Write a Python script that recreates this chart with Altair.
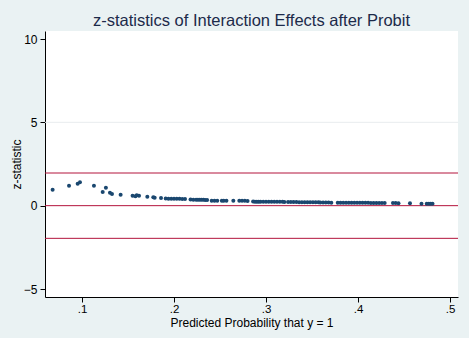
import altair as alt
import pandas as pd

# Predicted probability (x) and z-statistic (y)
prob = [0.0681, 0.0859, 0.0953, 0.0978, 0.1130, 0.1225, 0.1260, 0.1304, 0.1326, 0.1420,
        0.1550, 0.1580, 0.1595, 0.1620, 0.1710, 0.1775, 0.1790, 0.1859,
        0.191, 0.194, 0.197, 0.200, 0.203, 0.206, 0.209, 0.212,
        0.218, 0.221, 0.224, 0.226, 0.228, 0.230, 0.232, 0.234, 0.236,
        0.241, 0.244, 0.247, 0.252, 0.254, 0.257, 0.2645,
        0.271, 0.274, 0.277, 0.280,
        0.286, 0.288, 0.290, 0.292, 0.294, 0.297,
        0.300, 0.303, 0.306, 0.309, 0.312, 0.315, 0.318, 0.320,
        0.324, 0.327, 0.330, 0.333, 0.336, 0.339, 0.342, 0.345, 0.348, 0.351, 0.354, 0.357,
        0.359, 0.362, 0.365, 0.368, 0.371,
        0.378, 0.381, 0.384, 0.387, 0.390, 0.393, 0.396, 0.399, 0.402, 0.405, 0.408,
        0.411, 0.414, 0.417, 0.420, 0.423, 0.426, 0.429,
        0.438, 0.441, 0.444, 0.4565,
        0.469, 0.4747, 0.477, 0.479, 0.481]
zstat = [0.96, 1.20, 1.32, 1.40, 1.20, 0.82, 1.08, 0.78, 0.70, 0.66,
         0.60, 0.56, 0.62, 0.60, 0.54, 0.50, 0.48, 0.46,
         0.43, 0.42, 0.42, 0.41, 0.42, 0.41, 0.40, 0.40,
         0.37, 0.36, 0.36, 0.36, 0.35, 0.35, 0.35, 0.34, 0.34,
         0.30, 0.30, 0.30, 0.30, 0.30, 0.29, 0.30,
         0.29, 0.29, 0.29, 0.28,
         0.25, 0.24, 0.24, 0.24, 0.24, 0.24,
         0.24, 0.24, 0.23, 0.23, 0.23, 0.23, 0.23, 0.22,
         0.22, 0.22, 0.22, 0.22, 0.21, 0.21, 0.21, 0.21, 0.21, 0.21, 0.20, 0.20,
         0.19, 0.19, 0.19, 0.19, 0.18,
         0.18, 0.18, 0.18, 0.18, 0.18, 0.17, 0.17, 0.17, 0.17, 0.17, 0.17,
         0.17, 0.16, 0.16, 0.16, 0.16, 0.16, 0.16,
         0.16, 0.16, 0.15, 0.15,
         0.12, 0.12, 0.12, 0.11, 0.11]

ref_lines = [1.96, 0, -1.96]
grid_lines = [5]
x_ticks = [0.1, 0.2, 0.3, 0.4, 0.5]
y_ticks = [-5, 0, 5, 10]

df = pd.DataFrame({"prob": prob, "z": zstat})
df_ref = pd.DataFrame({"y": ref_lines})
df_grid = pd.DataFrame({"y": grid_lines})

FONT = "Liberation Sans"
xscale = alt.Scale(domain=[0.0598, 0.5087], nice=False, zero=False)
yscale = alt.Scale(domain=[-5.48, 10.48], nice=False, zero=False)

grid = alt.Chart(df_grid).mark_rule(color="#e8ecee", strokeWidth=1).encode(
    y=alt.Y("y:Q", scale=yscale)
)

refs = alt.Chart(df_ref).mark_rule(color="#b3143c", strokeWidth=1).encode(
    y=alt.Y("y:Q", scale=yscale)
)

pts = alt.Chart(df).mark_point(filled=True, shape="circle", size=16, color="#1a476f",
                               opacity=1, clip=True).encode(
    x=alt.X("prob:Q", scale=xscale,
            axis=alt.Axis(values=x_ticks, title="Predicted Probability that y = 1",
                          labelExpr="'.' + round(datum.value * 10)",
                          labelPadding=1, labelFontSize=11.5,
                          titleY=29, titleBaseline="alphabetic")),
    y=alt.Y("z:Q", scale=yscale,
            axis=alt.Axis(values=y_ticks, title="z-statistic",
                          titleX=-25, titleY=133, titleBaseline="alphabetic",
                          titleAngle=-90))
)

chart = alt.layer(grid, refs, pts).properties(
    width=413, height=266,
    background="#eaf2f3",
    autosize=alt.AutoSizeParams(type="none"),
    padding={"left": 45, "top": 31, "right": 11, "bottom": 41},
    title=alt.TitleParams("z-statistics of Interaction Effects after Probit",
                          font=FONT, fontSize=16.5, fontWeight="normal",
                          color="#1c2a4a", anchor="middle",
                          baseline="alphabetic", offset=5, dy=16),
).configure_view(fill="white", stroke=None).configure_axis(
    grid=False, domainColor="black", domainWidth=1, tickColor="black", tickSize=5,
    labelColor="black", labelFont=FONT, labelFontSize=12, labelPadding=3,
    titleColor="black", titleFont=FONT, titleFontSize=12, titleFontWeight="normal",
)

chart.save("out.html", embed_options={"renderer": "svg", "actions": False})
